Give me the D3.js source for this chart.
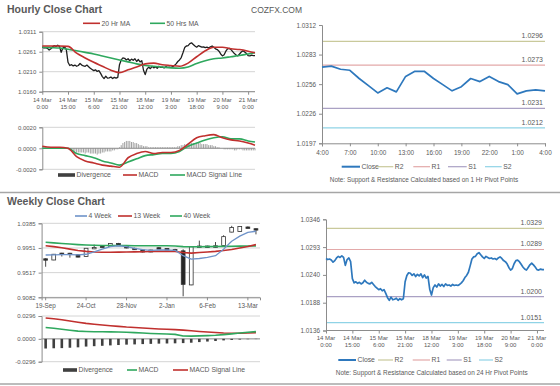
<!DOCTYPE html>
<html>
<head>
<meta charset="utf-8">
<script src="https://cdn.jsdelivr.net/npm/d3@7"></script>
<style>
  body { margin: 0; background: #fff; }
  svg text { font-family: Arial, "Liberation Sans", sans-serif; fill: #595959; }
</style>
</head>
<body>
<svg id="chart" width="560" height="386"></svg>
<script>
// ---- hourly data (14 Mar 0:00 -> 21 Mar 4:00, one value per trading hour)
var hourlyClose = [
  1.0272,1.0270,1.0271,1.0269,1.0265,1.0268,1.0273,1.0276,1.0274,1.0277,
  1.0274,1.0259,1.0270,1.0273,1.0266,1.0234,1.0226,1.0228,1.0225,1.0227,
  1.0224,1.0226,1.0231,1.0227,1.0225,1.0224,1.0227,1.0223,1.0219,1.0216,
  1.0213,1.0215,1.0211,1.0213,1.0206,1.0198,1.0193,1.0199,1.0194,1.0195,
  1.0197,1.0193,1.0196,1.0194,1.0196,1.0228,1.0240,1.0245,1.0244,1.0240,
  1.0243,1.0238,1.0242,1.0239,1.0243,1.0236,1.0241,1.0235,1.0238,1.0214,
  1.0203,1.0217,1.0222,1.0218,1.0224,1.0220,1.0223,1.0219,1.0224,1.0221,
  1.0222,1.0220,1.0223,1.0221,1.0222,1.0221,1.0223,1.0226,1.0230,1.0236,
  1.0240,1.0246,1.0258,1.0271,1.0275,1.0276,1.0281,1.0283,1.0279,1.0275,
  1.0272,1.0276,1.0274,1.0272,1.0273,1.0271,1.0272,1.0270,1.0273,1.0275,
  1.0272,1.0268,1.0266,1.0262,1.0255,1.0250,1.0253,1.0262,1.0268,1.0269,
  1.0266,1.0261,1.0256,1.0252,1.0250,1.0255,1.0260,1.0263,1.0260,1.0256,
  1.0251,1.0250,1.0252,1.0251,1.0251
];
var hourlyDiv = [
  0.0001,0.0001,0.0001,0.0000,0.0000,0.0001,0.0001,0.0001,0.0001,0.0001,0.0000,0.0000,0.0000,0.0000,0.0000,
  -0.0001,-0.0002,-0.0003,-0.0003,-0.0003,-0.0004,-0.0004,-0.0004,-0.0004,-0.0004,-0.0005,-0.0004,-0.0004,-0.0005,-0.0005,
  -0.0005,-0.0005,-0.0006,-0.0005,-0.0005,-0.0004,-0.0004,-0.0003,-0.0003,-0.0003,-0.0003,-0.0002,-0.0002,-0.0001,-0.0001,
  0.0001,0.0003,0.0005,0.0006,0.0007,0.0007,0.0007,0.0006,0.0006,0.0005,0.0005,0.0004,0.0003,0.0003,0.0002,
  0.0002,0.0002,0.0001,0.0001,0.0001,0.0001,0.0001,0.0001,0.0001,0.0001,0.0001,0.0001,0.0001,0.0001,0.0001,
  0.0001,0.0001,0.0001,0.0001,0.0002,0.0002,0.0003,0.0003,0.0004,0.0004,0.0005,0.0005,0.0005,0.0005,0.0005,
  0.0005,0.0005,0.0005,0.0004,0.0004,0.0004,0.0004,0.0003,0.0003,0.0003,0.0002,0.0002,0.0001,0.0001,0.0000,
  0.0000,-0.0001,-0.0001,-0.0001,-0.0001,-0.0001,-0.0001,-0.0002,-0.0002,-0.0001,-0.0001,-0.0001,-0.0002,-0.0002,-0.0002,
  -0.0002,-0.0002,-0.0002,-0.0002,-0.0002
];
// moving averages / MACD read every 5 hours
var maHours = [0,5,10,15,20,25,30,35,40,45,50,55,60,65,70,75,80,85,90,95,100,105,110,115,120,124];
var ma20 = [1.0275,1.0275,1.0275,1.0274,1.0257,1.0245,1.0234,1.0224,1.0214,1.0208,1.0215,1.0222,1.0230,
            1.0232,1.0228,1.0226,1.0224,1.0232,1.0248,1.0263,1.0272,1.0272,1.0268,1.0266,1.0262,1.0258];
var ma50 = [1.0272,1.0271,1.0270,1.0267,1.0263,1.0259,1.0255,1.0250,1.0245,1.0240,1.0235,1.0230,1.0226,
            1.0224,1.0222,1.0220,1.0219,1.0222,1.0231,1.0238,1.0243,1.0245,1.0248,1.0251,1.0255,1.0258];
var macdHourly = [0.0002,0.0001,0.0001,0.0000,-0.0008,-0.0012,-0.0014,-0.0016,-0.0017,-0.0018,-0.0009,-0.0005,-0.0003,
                  -0.0005,-0.0004,-0.0004,-0.0002,0.0004,0.0010,0.0012,0.0013,0.0010,0.0008,0.0007,0.0005,0.0003];
var signalHourly = [0.0000,0.0000,0.0000,0.0000,-0.0005,-0.0007,-0.0009,-0.0012,-0.0014,-0.0016,-0.0013,-0.0010,-0.0007,
                    -0.0006,-0.0005,-0.0005,-0.0003,0.0002,0.0005,0.0008,0.0010,0.0011,0.0009,0.0009,0.0007,0.0006];
var hourTickDays  = ["14 Mar","14 Mar","15 Mar","15 Mar","18 Mar","19 Mar","19 Mar","20 Mar","21 Mar"];
var hourTickTimes = ["0:00","15:00","6:00","21:00","12:00","3:00","18:00","9:00","0:00"];
var hourlyYTicks  = ["1.0160","1.0210","1.0261","1.0311"];
var hourlyMacdTicks = ["-0.0020","0.0000","0.0020"];

// ---- last 24 hours with 1 hr pivots
var dayClose = [1.0271,1.0272,1.0269,1.0268,1.0260,1.0253,1.0246,1.0251,1.0247,1.0262,1.0267,1.0267,1.0260,
                1.0254,1.0248,1.0252,1.0260,1.0257,1.0262,1.0257,1.0254,1.0245,1.0248,1.0249,1.0248];
var dayTicks = ["4:00","7:00","10:00","13:00","16:00","19:00","22:00","1:00","4:00"];
var dayYTicks = ["1.0197","1.0226","1.0256","1.0283","1.0312"];
var pivotNames = ["R2","R1","S1","S2"];
var pivotColors = ["#c9c99b","#e3a9a9","#aaa1c4","#8fd3e6"];
var pivots1Hr = [1.0296,1.0273,1.0231,1.0212];
var pivots24Hr = [1.0329,1.0289,1.0200,1.0151];
var weekRangeYTicks = ["1.0136","1.0188","1.0240","1.0293","1.0346"];

// ---- weekly data
var weeks = ["19-Sep","26-Sep","3-Oct","10-Oct","17-Oct","24-Oct","31-Oct","7-Nov","14-Nov","21-Nov","28-Nov",
             "5-Dec","12-Dec","19-Dec","26-Dec","2-Jan","9-Jan","16-Jan","23-Jan","30-Jan","6-Feb","13-Feb",
             "20-Feb","27-Feb","6-Mar","13-Mar","20-Mar"];
var wOpen  = [0.9760,0.9739,0.9860,0.9858,0.9830,0.9800,0.9945,0.9985,0.9975,1.0030,0.9975,0.9945,0.9915,0.9880,
              0.9955,0.9940,0.9925,0.9900,0.9300,0.9975,0.9985,0.9960,0.9995,1.0230,1.0240,1.0320,1.0290];
var wClose = [0.9755,0.9840,0.9855,0.9850,0.9790,0.9945,0.9960,0.9970,1.0030,0.9990,0.9950,0.9930,0.9880,0.9915,
              0.9940,0.9930,0.9905,0.9310,0.9970,0.9985,0.9965,0.9990,1.0150,1.0310,1.0330,1.0300,1.0285];
var wHigh  = [0.9770,0.9845,0.9865,0.9865,0.9835,0.9950,1.0010,1.0000,1.0035,1.0040,0.9980,0.9955,0.9920,0.9920,
              0.9965,0.9950,0.9935,0.9927,0.9980,1.0080,0.9990,1.0055,1.0175,1.0340,1.0335,1.0330,1.0295];
var wLow   = [0.9620,0.9735,0.9800,0.9780,0.9785,0.9795,0.9930,0.9960,0.9970,0.9985,0.9945,0.9925,0.9870,0.9875,
              0.9935,0.9925,0.9895,0.9100,0.9295,0.9970,0.9960,0.9955,0.9990,1.0225,1.0235,1.0295,1.0190];
var ma4w  = [0.9827,0.9830,0.9835,0.9835,0.9830,0.9840,0.9880,0.9930,0.9975,0.9990,0.9975,0.9945,0.9920,0.9910,
             0.9915,0.9915,0.9910,0.9815,0.9755,0.9765,0.9785,0.9815,0.9930,1.0070,1.0160,1.0225,1.0245];
var ma13w = [0.9990,0.9975,0.9955,0.9930,0.9905,0.9890,0.9880,0.9875,0.9875,0.9878,0.9880,0.9882,0.9885,0.9888,
             0.9890,0.9893,0.9888,0.9870,0.9860,0.9870,0.9880,0.9890,0.9905,0.9925,0.9950,0.9975,1.0010];
var ma40w = [1.0050,1.0040,1.0030,1.0020,1.0010,1.0003,0.9998,0.9995,0.9995,0.9993,0.9992,0.9991,0.9990,0.9990,
             0.9990,0.9990,0.9985,0.9975,0.9972,0.9973,0.9975,0.9977,0.9979,0.9981,0.9983,0.9985,0.9987];
var macdWeekly = [0.0148,0.0138,0.0125,0.0112,0.0100,0.0095,0.0092,0.0091,0.0090,0.0088,0.0085,0.0080,0.0075,0.0070,
                  0.0066,0.0063,0.0058,0.0036,0.0035,0.0038,0.0042,0.0047,0.0055,0.0065,0.0075,0.0085,0.0094];
var signalWeekly = [0.0270,0.0260,0.0248,0.0232,0.0215,0.0200,0.0190,0.0180,0.0170,0.0162,0.0153,0.0147,0.0140,0.0134,
                    0.0128,0.0124,0.0119,0.0113,0.0105,0.0096,0.0089,0.0082,0.0076,0.0073,0.0073,0.0075,0.0080];
var divWeekly = [-0.0125,-0.0122,-0.0120,-0.0115,-0.0110,-0.0100,-0.0095,-0.0090,-0.0085,-0.0080,-0.0075,-0.0072,
                 -0.0068,-0.0065,-0.0062,-0.0060,-0.0058,-0.0055,-0.0050,-0.0042,-0.0035,-0.0028,-0.0020,-0.0014,
                 -0.0009,-0.0005,-0.0003];
var weeklyYTicks = ["0.9082","0.9517","0.9951","1.0385"];
var weeklyMacdTicks = ["-0.0296","0.0000","0.0296"];

var RED = "#c0302e", GREEN = "#2fa85e", BLUE = "#2e78bd", LIGHTBLUE = "#6f93c9", GRID = "#d4d4d4";
var LEGEND_FONT = '6.8px';
var svg = d3.select('#chart');

// Evenly spaced tick positions for typed labels (as the source chart does).
function tickVals(labels) {
  var lo = +labels[0], hi = +labels[labels.length - 1];
  return labels.map(function(l, i) { return lo + i * (hi - lo) / (labels.length - 1); });
}

function styleAxis(g, size) {
  g.select('.domain').attr('stroke', '#8c8c8c');
  g.selectAll('.tick line').attr('stroke', '#8c8c8c');
  g.selectAll('text').style('font-size', (size || 6) + 'px').attr('fill', '#595959');
}

function yAxis(y, labels, x, x2, grid, size) {
  var vals = tickVals(labels);
  if (grid) {
    svg.append('g').selectAll('line').data(vals).enter().append('line')
      .attr('x1', x).attr('x2', x2)
      .attr('y1', function(d) { return y(d); }).attr('y2', function(d) { return y(d); })
      .attr('stroke', GRID).attr('stroke-width', 1);
  }
  var g = svg.append('g').attr('transform', 'translate(' + x + ',0)')
    .call(d3.axisLeft(y).tickValues(vals).tickSize(3).tickPadding(3)
      .tickFormat(function(d) { return labels[vals.indexOf(d)]; }));
  styleAxis(g, size);
}

function line(x, y, xs, ys, color, w, curve) {
  svg.append('path')
    .datum(ys.map(function(v, i) { return [xs[i], v]; }))
    .attr('fill', 'none').attr('stroke', color).attr('stroke-width', w)
    .attr('stroke-linejoin', 'round')
    .attr('d', d3.line().curve(curve || d3.curveLinear)
      .x(function(d) { return x(d[0]); }).y(function(d) { return y(d[1]); }));
}

function legendLine(x1, x2, y, color, label, w) {
  svg.append('line').attr('x1', x1).attr('x2', x2).attr('y1', y).attr('y2', y)
    .attr('stroke', color).attr('stroke-width', w || 1.6);
  svg.append('text').attr('x', x2 + 1.5).attr('y', y + 2.4).style('font-size', LEGEND_FONT).text(label);
}

function legendBar(x1, x2, y, label) {
  svg.append('rect').attr('x', x1).attr('y', y - 1.8).attr('width', x2 - x1).attr('height', 3.6).attr('fill', '#404040');
  svg.append('text').attr('x', x2 + 1.5).attr('y', y + 2.4).style('font-size', LEGEND_FONT).text(label);
}

function twoLineLabels(x, yTop, idx) {
  idx.forEach(function(h, i) {
    var t = svg.append('text').attr('x', x(h)).attr('text-anchor', 'middle').style('font-size', '6px');
    t.append('tspan').attr('x', x(h)).attr('y', yTop).text(hourTickDays[i]);
    t.append('tspan').attr('x', x(h)).attr('y', yTop + 7.5).text(hourTickTimes[i]);
  });
}

var hourIdx = hourlyClose.map(function(d, i) { return i; });
var hourTickIdx = hourTickDays.map(function(d, i) { return i * 15; });

// ---------- titles & frame
svg.append('text').attr('x', 7).attr('y', 13).style('font-size', '10.5px').style('font-weight', 'bold')
  .attr('fill', '#1a1a1a').text('Hourly Close Chart');
svg.append('text').attr('x', 251).attr('y', 13).style('font-size', '8.5px').attr('fill', '#7f7f7f').text('COZFX.COM');
svg.append('text').attr('x', 7).attr('y', 205).style('font-size', '10.5px').style('font-weight', 'bold')
  .attr('fill', '#1a1a1a').text('Weekly Close Chart');
[192.5, 384].forEach(function(yy) {
  svg.append('line').attr('x1', 0).attr('x2', 560).attr('y1', yy).attr('y2', yy)
    .attr('stroke', '#a6a6a6').attr('stroke-width', 1.5);
});

// ---------- hourly close chart
var xH = d3.scaleLinear().domain([0, hourlyClose.length - 1]).range([42.3, 255]);
var yH = d3.scaleLinear().domain([+hourlyYTicks[0], +hourlyYTicks[3]]).range([91.7, 31.7]);
yAxis(yH, hourlyYTicks, 42.3, 255, true);
var gxH = svg.append('g').attr('transform', 'translate(0,91.7)')
  .call(d3.axisBottom(xH).tickValues(hourTickIdx).tickSize(3).tickFormat(''));
styleAxis(gxH);
gxH.select('.domain').attr('d', 'M42.3,0H255');
twoLineLabels(xH, 101.5, hourTickIdx);
line(xH, yH, hourIdx, hourlyClose, '#1f1f1f', 1.3);
line(xH, yH, maHours, ma50, GREEN, 1.6, d3.curveMonotoneX);
line(xH, yH, maHours, ma20, RED, 1.6, d3.curveMonotoneX);
legendLine(83, 100, 23.3, RED, '20 Hr MA');
legendLine(150, 165, 23.3, GREEN, '50 Hrs MA');

// hourly MACD
var yHM = d3.scaleLinear().domain([-0.0020, 0.0020]).range([169.3, 127.3]);
yAxis(yHM, hourlyMacdTicks, 42.3, 255, true);
svg.append('line').attr('x1', 42.3).attr('x2', 255).attr('y1', yHM(0)).attr('y2', yHM(0)).attr('stroke', '#9a9a9a');
svg.append('g').selectAll('line').data(hourlyDiv).enter().append('line')
  .attr('x1', function(d, i) { return xH(i); }).attr('x2', function(d, i) { return xH(i); })
  .attr('y1', yHM(0)).attr('y2', function(d) { return yHM(d); })
  .attr('stroke', '#8a8a8a').attr('stroke-width', 0.8);
line(xH, yHM, maHours, signalHourly, GREEN, 1.6, d3.curveMonotoneX);
line(xH, yHM, maHours, macdHourly, RED, 1.6, d3.curveMonotoneX);
legendBar(58, 75, 175, 'Divergence');
legendLine(123, 137, 175, RED, 'MACD');
legendLine(170, 185, 175, GREEN, 'MACD Signal Line');

// ---------- last 24 hours with pivots
function pivotChart(x, y, closeIdx, closes, labels, pivots, x0, x1) {
  pivots.forEach(function(p, i) {
    svg.append('line').attr('x1', x0).attr('x2', x1).attr('y1', y(p)).attr('y2', y(p))
      .attr('stroke', pivotColors[i]).attr('stroke-width', 1.2);
    svg.append('text').attr('x', x1 - 2).attr('y', y(p) - 3).attr('text-anchor', 'end')
      .style('font-size', '7px').text(d3.format('.4f')(p));
  });
  yAxis(y, labels, x0, x1, false, 6.4);
  line(x, y, closeIdx, closes, BLUE, 1.7);
}

var xD = d3.scaleLinear().domain([0, dayClose.length - 1]).range([322, 545]);
var yD = d3.scaleLinear().domain([+dayYTicks[0], +dayYTicks[4]]).range([143.3, 25]);
var dayTickIdx = dayTicks.map(function(d, i) { return i * 3; });
pivotChart(xD, yD, dayClose.map(function(d, i) { return i; }), dayClose, dayYTicks, pivots1Hr, 322, 545);
var gxD = svg.append('g').attr('transform', 'translate(0,143.3)')
  .call(d3.axisBottom(xD).tickValues(dayTickIdx).tickSize(3).tickPadding(4)
    .tickFormat(function(d) { return dayTicks[dayTickIdx.indexOf(d)]; }));
styleAxis(gxD, 6.4);
var legX = [[341.7, 360], [376.7, 393.3], [413.3, 430], [448, 466.7], [485, 501.7]];
legendLine(legX[0][0], legX[0][1], 166.7, BLUE, 'Close', 2);
pivotNames.forEach(function(n, i) { legendLine(legX[i + 1][0], legX[i + 1][1], 166.7, pivotColors[i], n, 1.2); });
svg.append('text').attr('x', 424).attr('y', 182).attr('text-anchor', 'middle').style('font-size', '6.4px')
  .text('Note: Support & Resistance Calculated based on 1 Hr Pivot Points');

// ---------- hourly close with 24 hr pivots
var xW2 = d3.scaleLinear().domain([0, hourlyClose.length - 1]).range([326, 544]);
var yW2 = d3.scaleLinear().domain([+weekRangeYTicks[0], +weekRangeYTicks[4]]).range([330.5, 219.3]);
pivotChart(xW2, yW2, hourIdx, hourlyClose, weekRangeYTicks, pivots24Hr, 326, 544);
var gxW2 = svg.append('g').attr('transform', 'translate(0,330.5)')
  .call(d3.axisBottom(xW2).tickValues(hourTickIdx).tickSize(3).tickFormat(''));
styleAxis(gxW2);
gxW2.select('.domain').attr('d', 'M326,0H544');
twoLineLabels(xW2, 339.8, hourTickIdx);
var legX2 = [[338.3, 356], [378, 393], [412.7, 430], [446.7, 461.7], [479, 493]];
legendLine(legX2[0][0], legX2[0][1], 360, BLUE, 'Close', 2);
pivotNames.forEach(function(n, i) { legendLine(legX2[i + 1][0], legX2[i + 1][1], 360, pivotColors[i], n, 1.2); });
svg.append('text').attr('x', 431.7).attr('y', 375.3).attr('text-anchor', 'middle').style('font-size', '6.4px')
  .text('Note: Support & Resistance Calculated based on 24 Hr Pivot Points');

// ---------- weekly candles
var xW = d3.scaleBand().domain(weeks).range([41.6, 260]);
var bw = xW.bandwidth();
var cx = function(i) { return xW(weeks[i]) + bw / 2; };
var yW = d3.scaleLinear().domain([+weeklyYTicks[0], +weeklyYTicks[3]]).range([297.3, 223.3]);
yAxis(yW, weeklyYTicks, 41.6, 260, true);
var wLabelIdx = [0, 5, 10, 15, 20, 25];
var gxW = svg.append('g').attr('transform', 'translate(0,297.3)')
  .call(d3.axisBottom(xW).tickValues(wLabelIdx.map(function(i) { return weeks[i]; })).tickSize(3).tickPadding(3));
styleAxis(gxW, 6.3);

var cxs = weeks.map(function(d, i) { return i; });
var xWi = function(i) { return cx(i); };

svg.append('g').selectAll('line').data(weeks).enter().append('line')
  .attr('x1', function(d, i) { return cx(i); }).attr('x2', function(d, i) { return cx(i); })
  .attr('y1', function(d, i) { return yW(wHigh[i]); }).attr('y2', function(d, i) { return yW(wLow[i]); })
  .attr('stroke', '#333').attr('stroke-width', 0.9);
svg.append('g').selectAll('rect').data(weeks).enter().append('rect')
  .attr('x', function(d, i) { return cx(i) - 1.9; }).attr('width', 3.8)
  .attr('y', function(d, i) { return yW(Math.max(wOpen[i], wClose[i])); })
  .attr('height', function(d, i) { return Math.max(1.4, Math.abs(yW(wOpen[i]) - yW(wClose[i]))); })
  .attr('fill', function(d, i) { return wClose[i] > wOpen[i] ? '#fff' : '#262626'; })
  .attr('stroke', '#333').attr('stroke-width', 0.8);

line(xWi, yW, cxs, ma40w, GREEN, 1.6);
line(xWi, yW, cxs, ma13w, RED, 1.6);
line(xWi, yW, cxs, ma4w, LIGHTBLUE, 1.3);
legendLine(75, 87, 216, LIGHTBLUE, '4 Week');
legendLine(118, 132, 216, RED, '13 Week');
legendLine(170, 182, 216, GREEN, '40 Week');

// weekly MACD
var yWM = d3.scaleLinear().domain([-0.0296, 0.0296]).range([361.7, 316]);
yAxis(yWM, weeklyMacdTicks, 41.6, 260, true);
svg.append('line').attr('x1', 41.6).attr('x2', 260).attr('y1', yWM(0)).attr('y2', yWM(0)).attr('stroke', '#9a9a9a');
svg.append('g').selectAll('rect').data(divWeekly).enter().append('rect')
  .attr('x', function(d, i) { return cx(i) - 1.3; }).attr('width', 2.6)
  .attr('y', yWM(0)).attr('height', function(d) { return yWM(d) - yWM(0); })
  .attr('fill', '#404040');
line(xWi, yWM, cxs, signalWeekly, RED, 1.6);
line(xWi, yWM, cxs, macdWeekly, GREEN, 1.6);
legendBar(63, 77, 370, 'Divergence');
legendLine(127, 137, 370, GREEN, 'MACD');
legendLine(173, 188, 370, RED, 'MACD Signal Line');
</script>
</body>
</html>
